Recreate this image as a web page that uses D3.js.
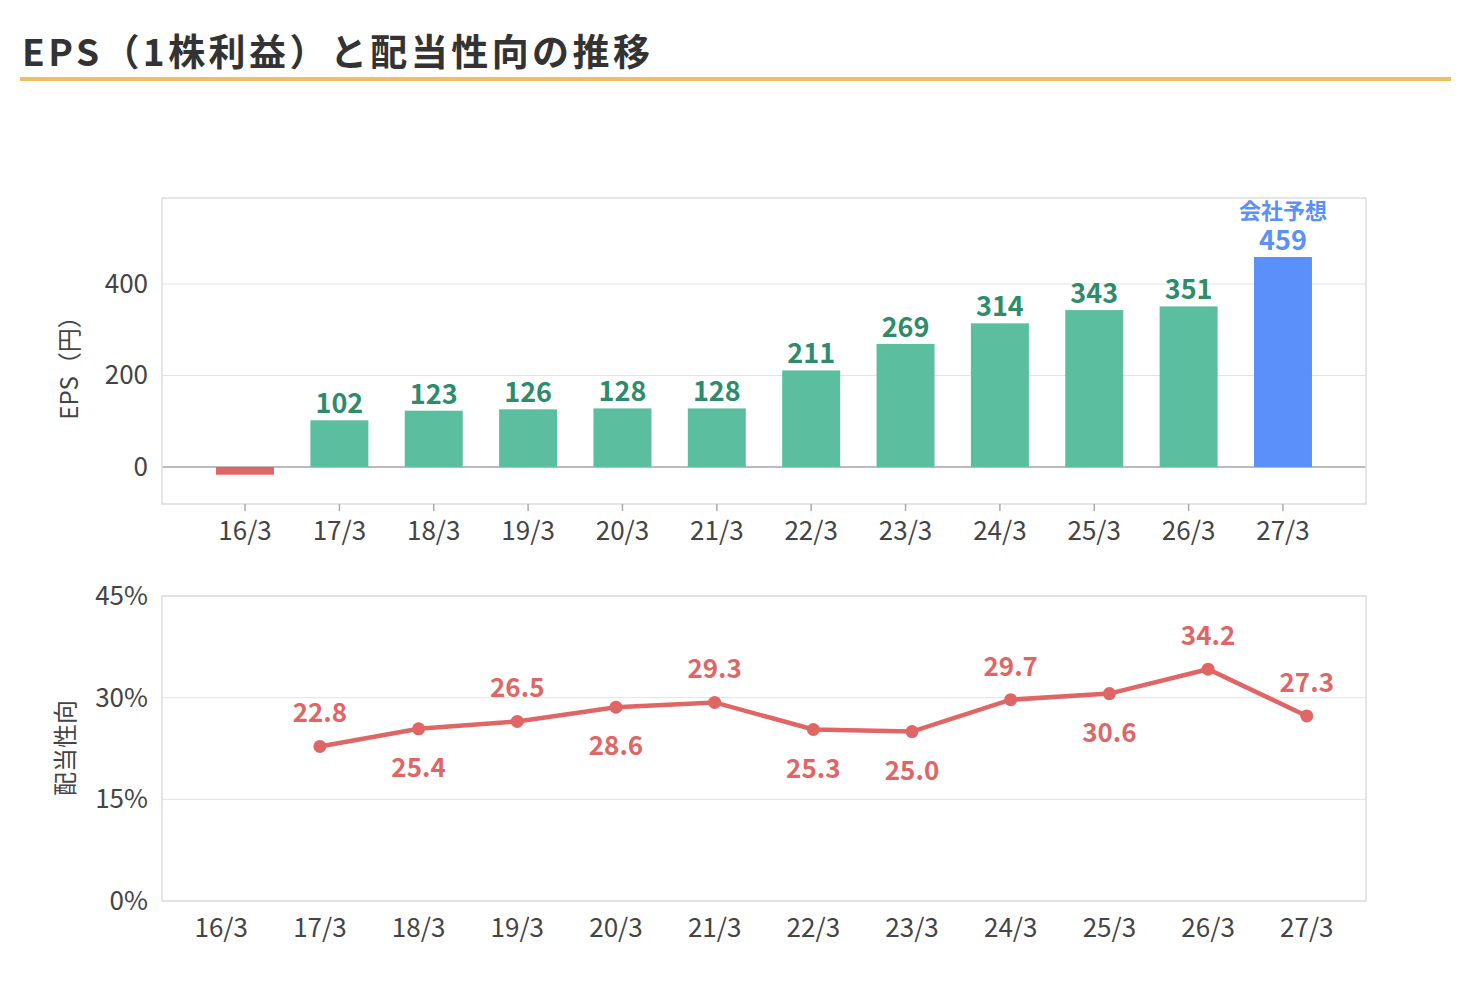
<!DOCTYPE html>
<html><head><meta charset="utf-8">
<script src="https://cdn.jsdelivr.net/npm/d3@7"></script>
<style>body{margin:0;background:#fff;font-family:"Noto Sans CJK JP","Noto Sans",sans-serif}</style>
</head><body>
<svg id="c" width="1470" height="990"></svg>
<script>
var years = ["16/3","17/3","18/3","19/3","20/3","21/3","22/3","23/3","24/3","25/3","26/3","27/3"];
var eps = [-17, 102, 123, 126, 128, 128, 211, 269, 314, 343, 351, 459];
var payout = [null, 22.8, 25.4, 26.5, 28.6, 29.3, 25.3, 25.0, 29.7, 30.6, 34.2, 27.3];
var labelAbove = [false, true, false, true, false, true, false, false, true, false, true, true];
var epsTicks = [0, 200, 400];
var payTicks = [0, 15, 30, 45];

var svg = d3.select("#c");

svg.append("text").attr("x", 22).attr("y", 66).attr("font-size", 37).attr("font-weight", 700)
  .attr("letter-spacing", 2).attr("textLength", 630).attr("fill", "#333").text("EPS（1株利益）と配当性向の推移");
svg.append("rect").attr("x", 20).attr("y", 77).attr("width", 1431).attr("height", 4).attr("fill", "#f0c060");

var L = 162, R = 1366;

// top chart
var x1 = d3.scalePoint().domain(years).range([L, R]).padding(0.88);
var y1 = d3.scaleLinear().domain([-81, 588]).range([504, 198]);
var g1 = svg.append("g");
g1.selectAll(".grid").data(epsTicks).enter().append("line")
  .attr("x1", L).attr("x2", R).attr("y1", y1).attr("y2", y1)
  .attr("stroke", function (d) { return d === 0 ? "#bbb" : "#e3e3e3"; }).attr("stroke-width", function (d) { return d === 0 ? 2 : 1; });
g1.append("rect").attr("x", L).attr("y", 198).attr("width", R - L).attr("height", 306)
  .attr("fill", "none").attr("stroke", "#ddd").attr("stroke-width", 1.5);
g1.selectAll(".yl").data(epsTicks).enter().append("text")
  .attr("x", 148).attr("y", function (d) { return y1(d) + 9; }).attr("text-anchor", "end")
  .attr("font-size", 26).attr("fill", "#444").text(function (d) { return d; });
g1.selectAll(".xl").data(years).enter().append("g").each(function (d) {
  var g = d3.select(this);
  g.append("line").attr("x1", x1(d)).attr("x2", x1(d)).attr("y1", 504).attr("y2", 511).attr("stroke", "#aaa").attr("stroke-width", 1.5);
  g.append("text").attr("x", x1(d)).attr("y", 540).attr("text-anchor", "middle").attr("font-size", 26).attr("fill", "#444").text(d);
});
var bw = 58;
g1.selectAll(".bar").data(eps).enter().append("rect")
  .attr("x", function (d, i) { return x1(years[i]) - bw / 2; })
  .attr("y", function (d) { return y1(Math.max(0, d)); })
  .attr("width", bw)
  .attr("height", function (d) { return Math.abs(y1(d) - y1(0)); })
  .attr("fill", function (d, i) { return d < 0 ? "#e06666" : (i === years.length - 1 ? "#5b8ff9" : "#5bbf9f"); });
g1.selectAll(".bl").data(eps).enter().filter(function (d) { return d > 0; }).append("text")
  .attr("x", function (d, i) { return x1(years[i + 1]); })
  .attr("y", function (d) { return y1(d) - 7; })
  .attr("text-anchor", "middle").attr("font-size", 27).attr("font-weight", 700)
  .attr("fill", function (d, i) { return i + 1 === years.length - 1 ? "#5b8ff9" : "#2e8b6b"; })
  .text(function (d) { return d; });
g1.append("text").attr("x", x1("27/3")).attr("y", y1(459) - 38).attr("text-anchor", "middle")
  .attr("font-size", 22).attr("font-weight", 700).attr("fill", "#5b8ff9").text("会社予想");
g1.append("text").attr("transform", "translate(78,362) rotate(-90)").attr("text-anchor", "middle")
  .attr("font-size", 24).attr("fill", "#444").text("EPS（円）");

// bottom chart
var x2 = d3.scalePoint().domain(years).range([L, R]).padding(0.6);
var y2 = d3.scaleLinear().domain([0, 45]).range([901, 596]);
var g2 = svg.append("g");
g2.selectAll(".grid").data(payTicks).enter().append("line")
  .attr("x1", L).attr("x2", R).attr("y1", y2).attr("y2", y2).attr("stroke", "#e3e3e3");
g2.append("rect").attr("x", L).attr("y", 596).attr("width", R - L).attr("height", 305)
  .attr("fill", "none").attr("stroke", "#ddd").attr("stroke-width", 1.5);
g2.selectAll(".yl").data(payTicks).enter().append("text")
  .attr("x", 148).attr("y", function (d) { return y2(d) + 9; }).attr("text-anchor", "end")
  .attr("font-size", 26).attr("fill", "#444").text(function (d) { return d + "%"; });
g2.selectAll(".xl").data(years).enter().append("text")
  .attr("x", function (d) { return x2(d); }).attr("y", 937).attr("text-anchor", "middle")
  .attr("font-size", 26).attr("fill", "#444").text(function (d) { return d; });
var pts = payout.map(function (v, i) { return { v: v, i: i }; }).filter(function (p) { return p.v !== null; });
var line = d3.line().x(function (p) { return x2(years[p.i]); }).y(function (p) { return y2(p.v); });
g2.append("path").attr("d", line(pts)).attr("fill", "none").attr("stroke", "#e06666").attr("stroke-width", 4.5);
g2.selectAll(".pt").data(pts).enter().append("circle")
  .attr("cx", function (p) { return x2(years[p.i]); }).attr("cy", function (p) { return y2(p.v); })
  .attr("r", 6.5).attr("fill", "#e06666");
g2.selectAll(".pl").data(pts).enter().append("text")
  .attr("x", function (p) { return x2(years[p.i]); })
  .attr("y", function (p) { return y2(p.v) + (labelAbove[p.i] ? -24 : 48); })
  .attr("text-anchor", "middle").attr("font-size", 26).attr("font-weight", 700).attr("fill", "#e06666")
  .text(function (p) { return p.v.toFixed(1); });
g2.append("text").attr("transform", "translate(74,748) rotate(-90)").attr("text-anchor", "middle")
  .attr("font-size", 24).attr("fill", "#444").text("配当性向");
</script>
</body></html>
